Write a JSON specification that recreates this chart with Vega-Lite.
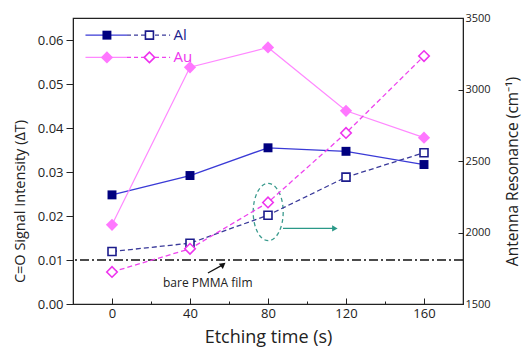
{
  "$schema": "https://vega.github.io/schema/vega-lite/v6.json",
  "autosize": "none",
  "width": 390,
  "height": 286,
  "padding": {"left": 73, "top": 18, "right": 61, "bottom": 43},
  "background": "white",
  "config": {
    "font": "Open Sans",
    "view": {"stroke": "#222", "strokeWidth": 1.2},
    "axis": {"grid": false, "domainColor": "#222", "tickColor": "#222", "labelColor": "#222", "titleColor": "#222", "titleFontWeight": "normal", "labelFont": "Open Sans", "titleFont": "Open Sans"}
  },
  "datasets": {
    "signal": [
      {"t": 0, "metal": "Al", "v": 0.0248},
      {"t": 40, "metal": "Al", "v": 0.0292},
      {"t": 80, "metal": "Al", "v": 0.0355},
      {"t": 120, "metal": "Al", "v": 0.0347},
      {"t": 160, "metal": "Al", "v": 0.0317},
      {"t": 0, "metal": "Au", "v": 0.0180},
      {"t": 40, "metal": "Au", "v": 0.0538},
      {"t": 80, "metal": "Au", "v": 0.0583},
      {"t": 120, "metal": "Au", "v": 0.0439},
      {"t": 160, "metal": "Au", "v": 0.0378}
    ],
    "res": [
      {"t": 0, "metal": "Al", "r": 1867},
      {"t": 40, "metal": "Al", "r": 1925},
      {"t": 80, "metal": "Al", "r": 2121},
      {"t": 120, "metal": "Al", "r": 2387},
      {"t": 160, "metal": "Al", "r": 2558},
      {"t": 0, "metal": "Au", "r": 1724},
      {"t": 40, "metal": "Au", "r": 1886},
      {"t": 80, "metal": "Au", "r": 2210},
      {"t": 120, "metal": "Au", "r": 2696},
      {"t": 160, "metal": "Au", "r": 3234}
    ],
    "legend": [
      {"metal": "Al", "t": -13.6, "t2": 7.7, "t3": 29.8, "tf": -2.6, "to": 19.2, "tt": 31.5, "v": 0.0611},
      {"metal": "Au", "t": -13.6, "t2": 7.7, "t3": 29.8, "tf": -2.6, "to": 19.2, "tt": 31.5, "v": 0.05605}
    ]
  },
  "layer": [
    {
      "layer": [
        {
          "data": {"name": "signal"},
          "transform": [{"filter": "datum.metal === 'Al'"}],
          "mark": {"type": "line", "color": "#3a3ad6", "strokeWidth": 1.3},
          "encoding": {
            "x": {"field": "t", "type": "quantitative", "scale": {"domain": [-20, 180], "nice": false, "zero": false},
              "axis": {"title": "Etching time (s)", "values": [0, 20, 40, 60, 80, 100, 120, 140, 160],
                "labelExpr": "datum.value % 40 === 0 ? datum.label : ''",
                "tickSize": {"condition": {"test": "datum.value % 40 !== 0", "value": -3}, "value": -6},
                "labelFontSize": 13, "labelPadding": 9, "titleFontSize": 18,
                "titleBaseline": "alphabetic", "titleY": 38.5}},
            "y": {"field": "v", "type": "quantitative", "scale": {"domain": [0, 0.065], "nice": false},
              "axis": {"title": "C=O Signal Intensity (ΔT)", "values": [0, 0.005, 0.01, 0.015, 0.02, 0.025, 0.03, 0.035, 0.04, 0.045, 0.05, 0.055, 0.06, 0.065],
                "format": ".2f",
                "labelExpr": "round(datum.value*200) % 2 === 1 ? '' : datum.label",
                "tickSize": {"condition": {"test": "round(datum.value*200) % 2 === 1", "value": 4}, "value": 7},
                "labelFontSize": 13, "labelPadding": 3, "titleFontSize": 14.5,
                "titleAngle": -90, "titleBaseline": "alphabetic", "titleAlign": "center", "titleX": -49, "titleY": 183}}
          }
        },
        {
          "data": {"name": "signal"},
          "transform": [{"filter": "datum.metal === 'Al'"}],
          "mark": {"type": "point", "shape": "square", "filled": true, "color": "#00007f", "size": 80, "opacity": 1},
          "encoding": {"x": {"field": "t", "type": "quantitative"}, "y": {"field": "v", "type": "quantitative"}}
        },
        {
          "data": {"name": "signal"},
          "transform": [{"filter": "datum.metal === 'Au'"}],
          "mark": {"type": "line", "color": "#ff88ff", "strokeWidth": 1.2},
          "encoding": {"x": {"field": "t", "type": "quantitative"}, "y": {"field": "v", "type": "quantitative"}}
        },
        {
          "data": {"name": "signal"},
          "transform": [{"filter": "datum.metal === 'Au'"}],
          "mark": {"type": "point", "shape": "diamond", "filled": true, "color": "#ff77ff", "size": 150, "opacity": 1},
          "encoding": {"x": {"field": "t", "type": "quantitative"}, "y": {"field": "v", "type": "quantitative"}}
        },
        {
          "data": {"values": [{"v": 0.01}]},
          "mark": {"type": "rule", "color": "#111", "strokeWidth": 1.5, "strokeDash": [9, 3, 2, 3]},
          "encoding": {"y": {"field": "v", "type": "quantitative"}}
        },
        {
          "data": {"values": [{"t": 49.1, "v": 0.0048, "label": "bare PMMA film"}]},
          "mark": {"type": "text", "fontSize": 12, "color": "#222", "baseline": "middle", "align": "center"},
          "encoding": {"x": {"field": "t", "type": "quantitative"}, "y": {"field": "v", "type": "quantitative"}, "text": {"field": "label"}}
        },
        {
          "data": {"values": [{"t": 49.2, "v": 0.00705, "t2": 57.0, "v2": 0.00895}]},
          "mark": {"type": "rule", "color": "#111", "strokeWidth": 1.3},
          "encoding": {"x": {"field": "t", "type": "quantitative"}, "y": {"field": "v", "type": "quantitative"}, "x2": {"field": "t2"}, "y2": {"field": "v2"}}
        },
        {
          "data": {"values": [{"t": 57.0, "v": 0.00895}]},
          "mark": {"type": "point", "shape": "triangle-up", "angle": 53, "filled": true, "color": "#111", "size": 45, "opacity": 1},
          "encoding": {"x": {"field": "t", "type": "quantitative"}, "y": {"field": "v", "type": "quantitative"}}
        },
        {
          "data": {"values": [{"t": 80.1, "v": 0.0209}]},
          "mark": {"type": "point", "shape": "M-1,0A1,1.91 0 1,1 1,0A1,1.91 0 1,1 -1,0Z", "filled": false, "stroke": "#3b9b8e", "strokeWidth": 1.3, "strokeDash": [4, 3], "size": 900, "opacity": 1},
          "encoding": {"x": {"field": "t", "type": "quantitative"}, "y": {"field": "v", "type": "quantitative"}}
        },
        {
          "data": {"values": [{"t": 87.7, "t2": 114.0, "v": 0.01718}]},
          "mark": {"type": "rule", "color": "#2a9988", "strokeWidth": 1.3},
          "encoding": {"x": {"field": "t", "type": "quantitative"}, "x2": {"field": "t2"}, "y": {"field": "v", "type": "quantitative"}}
        },
        {
          "data": {"values": [{"t": 114.3, "v": 0.01718}]},
          "mark": {"type": "point", "shape": "triangle-right", "filled": true, "color": "#2a9988", "size": 40, "opacity": 1},
          "encoding": {"x": {"field": "t", "type": "quantitative"}, "y": {"field": "v", "type": "quantitative"}}
        },
        {
          "data": {"name": "legend"},
          "transform": [{"filter": "datum.metal === 'Al'"}],
          "layer": [
            {"mark": {"type": "rule", "color": "#3a3ad6", "strokeWidth": 1.3},
             "encoding": {"x": {"field": "t", "type": "quantitative"}, "x2": {"field": "t2"}, "y": {"field": "v", "type": "quantitative"}}},
            {"mark": {"type": "rule", "color": "#3a3a9a", "strokeWidth": 1.3, "strokeDash": [4, 3]},
             "encoding": {"x": {"field": "t2", "type": "quantitative"}, "x2": {"field": "t3"}, "y": {"field": "v", "type": "quantitative"}}},
            {"mark": {"type": "point", "shape": "square", "filled": true, "color": "#00007f", "size": 80, "opacity": 1},
             "encoding": {"x": {"field": "tf", "type": "quantitative"}, "y": {"field": "v", "type": "quantitative"}}},
            {"mark": {"type": "point", "shape": "square", "fill": "white", "stroke": "#1c1c8c", "strokeWidth": 1.6, "size": 64, "opacity": 1},
             "encoding": {"x": {"field": "to", "type": "quantitative"}, "y": {"field": "v", "type": "quantitative"}}},
            {"mark": {"type": "text", "fontSize": 15, "color": "#1c1c8c", "align": "left", "baseline": "middle"},
             "encoding": {"x": {"field": "tt", "type": "quantitative"}, "y": {"field": "v", "type": "quantitative"}, "text": {"field": "metal"}}}
          ]
        },
        {
          "data": {"name": "legend"},
          "transform": [{"filter": "datum.metal === 'Au'"}],
          "layer": [
            {"mark": {"type": "rule", "color": "#ff88ff", "strokeWidth": 1.2},
             "encoding": {"x": {"field": "t", "type": "quantitative"}, "x2": {"field": "t2"}, "y": {"field": "v", "type": "quantitative"}}},
            {"mark": {"type": "rule", "color": "#ee44ee", "strokeWidth": 1.3, "strokeDash": [4, 3]},
             "encoding": {"x": {"field": "t2", "type": "quantitative"}, "x2": {"field": "t3"}, "y": {"field": "v", "type": "quantitative"}}},
            {"mark": {"type": "point", "shape": "diamond", "filled": true, "color": "#ff77ff", "size": 150, "opacity": 1},
             "encoding": {"x": {"field": "tf", "type": "quantitative"}, "y": {"field": "v", "type": "quantitative"}}},
            {"mark": {"type": "point", "shape": "diamond", "fill": "white", "stroke": "#ee33ee", "strokeWidth": 1.6, "size": 110, "opacity": 1},
             "encoding": {"x": {"field": "to", "type": "quantitative"}, "y": {"field": "v", "type": "quantitative"}}},
            {"mark": {"type": "text", "fontSize": 15, "color": "#ee33ee", "align": "left", "baseline": "middle"},
             "encoding": {"x": {"field": "tt", "type": "quantitative"}, "y": {"field": "v", "type": "quantitative"}, "text": {"field": "metal"}}}
          ]
        }
      ]
    },
    {
      "layer": [
        {
          "data": {"name": "res"},
          "transform": [{"filter": "datum.metal === 'Al'"}],
          "mark": {"type": "line", "color": "#3a3a9a", "strokeWidth": 1.3, "strokeDash": [5, 3]},
          "encoding": {
            "x": {"field": "t", "type": "quantitative"},
            "y": {"field": "r", "type": "quantitative", "scale": {"domain": [1500, 3500], "nice": false, "zero": false},
              "axis": {"orient": "right", "title": "Antenna Resonance (cm⁻¹)", "values": [1500, 1750, 2000, 2250, 2500, 2750, 3000, 3250, 3500],
                "labelExpr": "datum.value % 500 === 0 ? datum.label : ''",
                "format": "d",
                "tickSize": {"condition": {"test": "datum.value % 500 !== 0", "value": -3}, "value": -5},
                "labelFontSize": 11, "labelPadding": 7, "titleFontSize": 15.5,
                "titleAngle": -90, "titleBaseline": "alphabetic", "titleAlign": "center", "titleX": 54, "titleY": 153}}
          }
        },
        {
          "data": {"name": "res"},
          "transform": [{"filter": "datum.metal === 'Al'"}],
          "mark": {"type": "point", "shape": "square", "fill": "white", "stroke": "#1c1c8c", "strokeWidth": 1.6, "size": 64, "opacity": 1},
          "encoding": {"x": {"field": "t", "type": "quantitative"}, "y": {"field": "r", "type": "quantitative"}}
        },
        {
          "data": {"name": "res"},
          "transform": [{"filter": "datum.metal === 'Au'"}],
          "mark": {"type": "line", "color": "#ee44ee", "strokeWidth": 1.3, "strokeDash": [5, 3]},
          "encoding": {"x": {"field": "t", "type": "quantitative"}, "y": {"field": "r", "type": "quantitative"}}
        },
        {
          "data": {"name": "res"},
          "transform": [{"filter": "datum.metal === 'Au'"}],
          "mark": {"type": "point", "shape": "diamond", "fill": "white", "stroke": "#ee33ee", "strokeWidth": 1.6, "size": 110, "opacity": 1},
          "encoding": {"x": {"field": "t", "type": "quantitative"}, "y": {"field": "r", "type": "quantitative"}}
        }
      ]
    }
  ],
  "resolve": {"scale": {"y": "independent"}}
}
